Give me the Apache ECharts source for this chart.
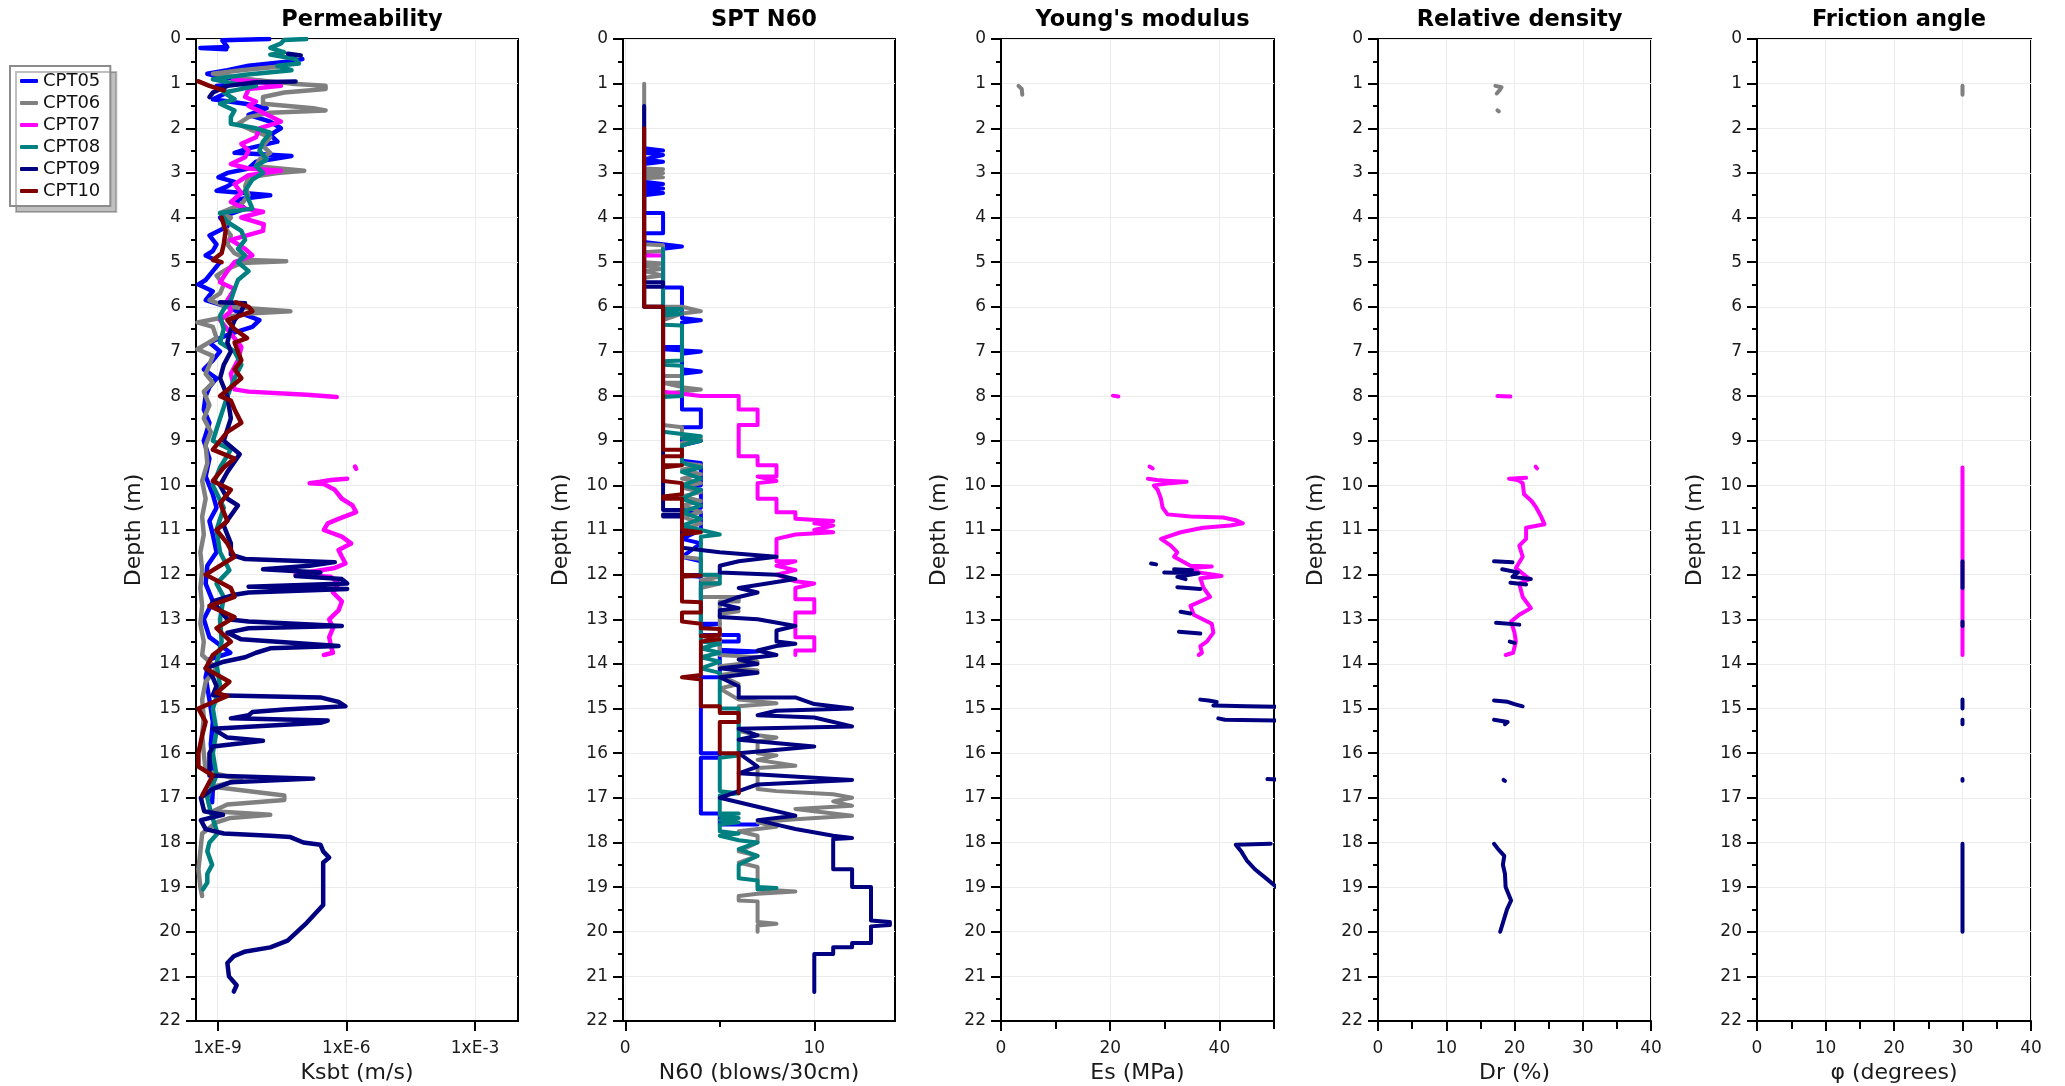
<!DOCTYPE html>
<html>
<head>
<meta charset="utf-8">
<script src="https://cdn.jsdelivr.net/npm/echarts@6/dist/echarts.min.js"></script>
<style>
html,body{margin:0;padding:0;background:#fff;}
#chart{width:2065px;height:1086px;}
</style>
</head>
<body>
<div id="chart"></div>
<script>
// ---------- categories / labels ----------
const cptNames = ['CPT05','CPT06','CPT07','CPT08','CPT09','CPT10'];
const cptColors = ['#0000ff','#808080','#ff00ff','#008080','#000080','#800000'];
const panelTitles = ['Permeability','SPT N60',"Young's modulus",'Relative density','Friction angle'];
const panelXNames = ['Ksbt (m/s)','N60 (blows/30cm)','Es (MPa)','Dr (%)','\u03c6 (degrees)'];
const permTickValues = [1e-9, 1e-6, 1e-3];
const permTickLabels = ['1xE-9','1xE-6','1xE-3'];
const sptTickValues = [0, 10];
const sptMinorTicks = [5];
const esTickValues = [0, 20, 40];
const esMinorTicks = [10, 30, 50];
const pctTickValues = [0, 10, 20, 30, 40];
const pctMinorTicks = [5, 15, 25, 35];

// ---------- data: [depth (m), value] ----------
// Permeability Ksbt (m/s)
const permCPT05 = [[0.00,1.6e-8],[0.03,1.3e-9],[0.18,1.7e-9],[0.20,4e-10],[0.23,1.6e-9],[0.3,null],
 [0.45,9.5e-8],[0.50,5.3e-8],[0.60,5.3e-9],[0.70,1.7e-9],[0.78,5.8e-10],[0.85,1.15e-9],[0.95,1.4e-8],[1.05,9.5e-10],[1.2,1.7e-9],[1.35,7.8e-10],[1.45,4.4e-9],[1.55,1.4e-8],[1.7,5.3e-9],[1.85,1.7e-8],[2.0,3e-8],[2.15,1.7e-8],[2.3,2.5e-8],[2.45,5.3e-9],[2.55,2.5e-9],[2.62,5.3e-8],[2.75,7.9e-9],[2.9,5.3e-9],[3.0,1.7e-9],[3.1,1.05e-9],[3.2,2.5e-9],[3.3,1.7e-9],[3.4,9.5e-10],[3.5,1.7e-8],[3.6,2.5e-9],[3.8,4.4e-9],[4.0,1.15e-9],[4.2,1.7e-9],[4.4,6.5e-10],[4.6,9.5e-10],[4.75,7.8e-10],[4.85,5.3e-10],[5.0,1.15e-9],[5.2,7.8e-10],[5.4,5.3e-10],[5.5,3.6e-10],[5.65,7.8e-10],[5.85,5.3e-10],[6.0,1.7e-9],[6.15,3.6e-9],[6.3,9.5e-9],[6.45,6.5e-9],[6.6,2.05e-9],[6.8,6.5e-10],[7.0,1.15e-9],[7.2,7.8e-10],[7.4,4.8e-10],[7.6,9.5e-10],[7.8,6.5e-10],[8.0,5.3e-10],[8.3,4.8e-10],[8.6,6.5e-10],[9.0,4.8e-10],[9.4,6.5e-10],[9.8,5.3e-10],[10.2,7.8e-10],[10.5,9.5e-10],[10.8,6.5e-10],[11.1,7.8e-10],[11.5,9.5e-10],[11.8,5.8e-10],[12.2,5.3e-10],[12.6,7.8e-10],[13.0,4.8e-10],[13.4,6.5e-10],[13.75,2e-9],[13.9,6.5e-10],[14.3,5.3e-10],[14.8,6.5e-10],[15.3,7.8e-10],[15.8,7e-10],[16.3,7.8e-10],[16.8,7.8e-10],[17.1,7.5e-10]];
const permCPT06 = [[0.62,2.5e-8],[0.7,3.6e-9],[0.78,7.8e-10],[0.9,5.3e-9],[1.0,5.3e-8],[1.05,3.3e-7],[1.12,3.3e-7],[1.2,3.6e-8],[1.3,1.15e-8],[1.45,1.15e-8],[1.55,1.7e-7],[1.6,3.3e-7],[1.65,1.7e-8],[1.75,5.3e-9],[1.9,3e-9],[2.05,6.5e-9],[2.2,1.7e-8],[2.4,1.15e-8],[2.55,1.7e-8],[2.7,9.5e-9],[2.85,7.9e-9],[2.95,1.05e-7],[3.0,2.5e-8],[3.1,5.3e-9],[3.3,4.4e-9],[3.5,5.3e-9],[3.7,3.6e-9],[3.9,1.15e-9],[4.0,2.05e-9],[4.2,1.4e-9],[4.4,2.05e-9],[4.6,1.7e-9],[4.8,2.5e-9],[4.95,5.3e-9],[4.98,4e-8],[5.02,3.6e-9],[5.15,1.7e-9],[5.3,9.5e-10],[5.5,1.4e-9],[5.7,1.15e-9],[5.85,6.5e-10],[6.0,1.7e-9],[6.1,5e-8],[6.15,5.3e-9],[6.25,1.15e-9],[6.35,3.4e-10],[6.45,7.8e-10],[6.7,9.5e-10],[6.95,3.4e-10],[7.1,7.8e-10],[7.3,6.5e-10],[7.5,5.3e-10],[7.7,7.8e-10],[7.9,4.8e-10],[8.2,6.5e-10],[8.5,4.8e-10],[8.8,7e-10],[9.1,5.3e-10],[9.5,5.8e-10],[9.9,4.4e-10],[10.3,5.3e-10],[10.7,4.4e-10],[11.1,4.8e-10],[11.5,4e-10],[11.9,4.4e-10],[12.3,4e-10],[12.7,4.4e-10],[13.1,4e-10],[13.5,4.8e-10],[13.8,4.4e-10],[14.1,9.5e-10],[14.4,5.3e-10],[14.8,4.4e-10],[15.2,4.8e-10],[15.6,4.4e-10],[16.0,4.8e-10],[16.4,5.3e-10],[16.6,3.6e-9],[16.75,7.8e-10],[16.95,3.6e-8],[17.05,3.6e-8],[17.15,1.7e-9],[17.3,7.8e-10],[17.38,1.7e-8],[17.45,2e-9],[17.55,9.5e-10],[17.8,4.4e-10],[18.2,4e-10],[18.6,3.6e-10],[19.0,4e-10],[19.2,4.4e-10]];
const permCPT07 = [[0.92,2.3e-9],[0.95,7.9e-9],[1.05,3e-8],[1.12,5.3e-9],[1.3,4.4e-9],[1.4,7.9e-9],[1.5,5.3e-9],[1.65,1.15e-8],[1.85,3e-8],[2.0,9.5e-9],[2.2,7.9e-9],[2.35,3.6e-9],[2.5,5.3e-9],[2.65,4.4e-9],[2.8,2.05e-9],[2.9,5.3e-9],[2.95,3e-8],[3.05,5.3e-9],[3.25,2.5e-9],[3.45,3.6e-9],[3.65,2.05e-9],[3.8,4.4e-9],[3.87,1.15e-8],[4.0,3.6e-9],[4.15,1.2e-8],[4.3,1.15e-8],[4.5,2.05e-9],[4.7,4.4e-9],[4.85,6.5e-9],[5.0,2.5e-9],[5.2,1.7e-9],[5.45,1.15e-9],[5.6,2.5e-9],[5.85,1.7e-9],[6.1,2.05e-9],[6.3,1.15e-9],[6.6,2.05e-9],[6.9,3.6e-9],[7.2,3e-9],[7.5,2.05e-9],[7.85,2.5e-9],[7.9,5.3e-9],[7.97,1.2e-7],[8.02,6e-7],[8.5,null],
 [9.58,1.6e-6],[9.63,1.7e-6],[9.7,null],
 [9.85,1.05e-6],[9.88,4.4e-7],[9.92,2.5e-7],[9.95,1.4e-7],[9.97,3e-7],[10.1,5.4e-7],[10.3,7.9e-7],[10.45,1.4e-6],[10.6,1.7e-6],[10.75,6.6e-7],[10.85,3.7e-7],[11.0,3e-7],[11.15,7.9e-7],[11.3,1.3e-6],[11.45,6.6e-7],[11.6,7.9e-7],[11.75,9.6e-7],[11.85,5.4e-7],[11.95,1.2e-7],[12.0,6.6e-8],[12.05,4.4e-7],[12.2,6.6e-7],[12.4,4.9e-7],[12.6,7.9e-7],[12.8,6.6e-7],[13.0,4e-7],[13.2,4.9e-7],[13.4,4e-7],[13.6,4.4e-7],[13.75,4.9e-7],[13.8,3e-7]];
const permCPT08 = [[0.0,1.17e-7],[0.02,3.6e-8],[0.1,3e-8],[0.2,1.7e-8],[0.3,3.6e-8],[0.35,1.7e-8],[0.45,6.6e-8],[0.55,7.9e-8],[0.6,2.5e-8],[0.7,5.3e-8],[0.8,4.4e-9],[0.9,7.8e-10],[1.0,2.5e-9],[1.05,7.9e-9],[1.15,2.5e-9],[1.2,1.4e-9],[1.35,2.5e-9],[1.45,1.15e-9],[1.6,2.5e-9],[1.75,2.05e-9],[1.9,2.05e-9],[2.0,7.9e-9],[2.1,1.7e-8],[2.3,1.15e-8],[2.5,9.5e-9],[2.7,1.4e-8],[2.85,7.9e-9],[3.0,1.15e-8],[3.15,6.5e-9],[3.4,4.4e-9],[3.6,5.3e-9],[3.8,6.5e-9],[3.9,1.15e-9],[4.1,1.7e-9],[4.3,3.6e-9],[4.5,4.4e-9],[4.7,3e-9],[4.85,4.4e-9],[5.0,3e-9],[5.2,5.3e-9],[5.4,3e-9],[5.6,2.5e-9],[5.85,2.05e-9],[6.05,1.4e-9],[6.2,1.15e-9],[6.5,1.4e-9],[6.8,1.15e-9],[7.0,2.5e-9],[7.3,3.6e-9],[7.6,2.5e-9],[8.0,1.7e-9],[8.5,1.15e-9],[9.0,7.8e-10],[9.2,2.05e-9],[9.6,1.15e-9],[10.0,7.8e-10],[10.5,1.4e-9],[11.0,9.5e-10],[11.5,1.15e-9],[11.9,1.9e-9],[12.2,9.5e-10],[12.5,1.4e-9],[13.0,1.15e-9],[13.5,1.25e-9],[14.0,9.5e-10],[14.5,1.15e-9],[15.0,7.8e-10],[15.5,9.5e-10],[16.0,7.8e-10],[16.5,9.5e-10],[17.0,5.8e-10],[17.3,6.9e-10],[17.8,1e-9],[18.0,6.5e-10],[18.2,5.8e-10],[18.5,7.5e-10],[18.7,5.8e-10],[18.9,5.8e-10],[19.05,4.6e-10]];
const permCPT09 = [[0.33,4.4e-8],[0.37,8.7e-8],[0.5,null],
 [0.95,6.6e-8],[0.97,7.9e-9],[1.05,1.7e-9],[1.2,7.8e-10],[1.3,6.5e-10],[2.0,null],
 [5.9,1.15e-9],[5.92,4.4e-9],[6.1,3.6e-9],[6.3,2.5e-9],[6.5,2.05e-9],[6.8,1.7e-9],[7.0,2.05e-9],[7.3,1.4e-9],[7.6,1.15e-9],[8.0,1.7e-9],[8.5,2.05e-9],[9.0,1.4e-9],[9.3,3.3e-9],[9.7,1.7e-9],[10.0,1.15e-9],[10.3,1.7e-9],[10.45,3e-9],[10.9,1.4e-9],[11.3,2.05e-9],[11.55,2.05e-9],[11.65,4.4e-9],[11.72,5.4e-7],[11.8,1.4e-7],[11.88,1.15e-8],[11.95,2.5e-7],[12.03,6.6e-8],[12.1,7.9e-7],[12.2,1.05e-6],[12.27,5.3e-9],[12.32,1.05e-6],[12.4,5.3e-9],[12.45,2.5e-9],[12.6,7.8e-10],[12.8,1.15e-9],[13.0,1.7e-9],[13.05,5.3e-9],[13.15,7.9e-7],[13.2,5.3e-9],[13.3,1.7e-9],[13.45,3.6e-9],[13.6,6.6e-7],[13.65,1.7e-8],[13.75,7.9e-9],[13.85,4.4e-9],[13.95,1.4e-9],[14.1,5.3e-10],[14.3,7.8e-10],[14.5,9.5e-10],[14.7,7.8e-10],[14.75,2.5e-7],[14.85,6.6e-7],[14.95,9.6e-7],[15.02,3.6e-8],[15.08,6.5e-9],[15.15,5.3e-9],[15.22,2.05e-9],[15.27,3.7e-7],[15.32,2.5e-7],[15.45,7.8e-10],[15.65,1.7e-9],[15.72,1.15e-8],[15.85,7.8e-10],[16.0,6.5e-10],[16.5,6.5e-10],[16.57,1.7e-7],[16.65,2.05e-9],[16.8,7.8e-10],[17.0,4.1e-10],[17.3,4.9e-10],[17.38,1.35e-9],[17.5,4.1e-10],[17.7,5.3e-10],[17.8,1.4e-9],[17.85,1.7e-8],[17.88,5e-8],[18.0,1e-7],[18.05,2.5e-7],[18.2,2.9e-7],[18.34,4e-7],[18.45,2.9e-7],[19.0,2.9e-7],[19.4,2.9e-7],[19.8,1.2e-7],[20.2,4.3e-8],[20.35,1.7e-8],[20.45,4.2e-9],[20.55,2.4e-9],[20.7,1.7e-9],[21.0,1.85e-9],[21.2,2.8e-9],[21.34,2.4e-9]];
const permCPT10 = [[0.95,3.6e-10],[1.05,6.5e-10],[1.15,1.4e-9],[2.0,null],
 [4.0,1.25e-9],[4.3,1.55e-9],[4.6,1.4e-9],[4.8,1.25e-9],[4.95,7.8e-10],[5.0,1.25e-9],[5.5,null],
 [5.9,2.7e-9],[6.0,5.3e-9],[6.1,6.5e-9],[6.3,1.7e-9],[6.5,2.5e-9],[6.7,4.9e-9],[6.8,2.5e-9],[7.0,3e-9],[7.2,3.6e-9],[7.4,2.5e-9],[7.6,3.6e-9],[7.8,2.05e-9],[8.0,1.15e-9],[8.1,2.05e-9],[8.3,2.5e-9],[8.6,3.6e-9],[8.8,1.7e-9],[9.2,7.8e-10],[9.4,2.5e-9],[9.6,1.4e-9],[9.9,7.8e-10],[10.1,2.05e-9],[10.4,1.15e-9],[10.8,1.7e-9],[11.0,9.5e-10],[11.3,1.7e-9],[11.6,2.5e-9],[12.0,5.3e-10],[12.3,2.05e-9],[12.5,2.5e-9],[12.7,6.5e-10],[12.95,2.5e-9],[13.2,9.5e-10],[13.5,2.05e-9],[13.8,7.8e-10],[14.1,5.3e-10],[14.4,1.9e-9],[14.65,9.5e-10],[14.72,1.7e-9],[15.0,3.6e-10],[15.3,5.3e-10],[15.6,4.4e-10],[16.0,3.6e-10],[16.3,3.6e-10],[16.5,7.8e-10],[16.95,4.4e-10]];

// SPT N60 (blows/30cm)
const sptCPT05 = [[2.45,1],[2.5,2],[2.55,1],[2.6,2],[2.7,1],[2.75,2],[2.8,1],[3.2,1],[3.25,2],[3.3,1],[3.35,2],[3.4,1],[3.45,2],[3.5,1],[3.9,1],[3.9,2],[4.35,2],[4.35,1],[4.55,1],[4.6,2],[4.65,3],[4.7,2],[5.57,2],[5.57,3],[6.25,3],[6.3,4],[6.35,3],[6.9,3],[6.9,2],[6.95,2],[7.0,4],[7.05,3],[7.4,3],[7.45,4],[7.5,3],[8.3,3],[8.3,4],[8.7,4],[8.7,3],[9.0,3],[9.0,4],[9.1,3],[9.45,3],[9.5,4],[10.0,4],[10.05,3],[10.1,4],[10.5,4],[10.55,3],[10.6,4],[11.0,4],[11.2,3],[11.3,4],[11.6,3],[11.7,4],[12.0,4],[12.02,3],[12.05,4],[13.1,4],[13.1,5],[13.15,4],[13.35,4],[13.35,6],[13.5,6],[13.5,5],[13.68,5],[13.72,7],[13.76,5],[14.3,5],[14.3,4],[16.0,4],[16.0,5],[16.1,5],[16.1,4],[17.35,4],[17.35,5],[17.6,5],[17.6,7]];
const sptCPT06 = [[1.0,1],[2.9,1],[2.92,2],[2.95,1],[3.0,2],[3.05,1],[3.1,2],[3.12,1],[4.6,1],[4.62,2],[4.75,2],[4.78,1],[5.0,1],[5.03,2],[5.08,1],[5.15,2],[5.2,1],[5.3,2],[5.35,1],[6.0,1],[6.0,3],[6.1,4],[6.15,3],[6.3,2],[7.55,2],[7.55,3],[7.7,3],[7.7,2],[7.8,3],[7.85,4],[7.9,3],[7.95,2],[8.65,2],[8.7,3],[8.9,3],[8.95,4],[9.05,3],[9.5,3],[9.55,4],[9.65,3],[9.75,4],[9.85,3],[9.95,4],[10.05,3],[10.15,4],[10.25,3],[10.35,4],[10.45,3],[10.6,4],[10.7,3],[10.85,4],[11.0,3],[11.6,3],[11.65,4],[12.0,4],[12.05,5],[12.12,4],[12.2,5],[12.3,4],[12.5,4],[12.5,6],[12.6,6],[12.6,5],[12.8,5],[12.82,6],[12.88,5],[13.8,5],[13.85,7],[13.9,6],[13.95,7],[14.05,5],[14.15,7],[14.25,5],[14.45,6],[14.55,5],[14.8,6],[14.88,8],[14.95,6],[15.5,6],[15.6,7],[15.65,8],[15.75,7],[16.0,7],[16.05,8],[16.15,7],[16.28,9],[16.33,7],[16.8,7],[16.85,8],[16.92,11],[17.0,12],[17.08,11],[17.18,12],[17.25,9],[17.4,12],[17.48,9],[17.55,7],[17.65,8],[17.75,6],[17.85,7],[18.0,7],[18.2,6],[18.3,7],[18.45,6],[18.55,7],[19.05,7],[19.1,9],[19.15,7],[19.2,6],[19.3,6],[19.32,7],[19.78,7],[19.82,8],[19.86,7],[20.0,7]];
const sptCPT07 = [[4.85,1],[4.85,2],[7.9,2],[7.95,3],[8.0,4],[8.0,6],[8.3,6],[8.3,7],[8.65,7],[8.65,6],[9.35,6],[9.35,7],[9.55,7],[9.55,8],[9.8,8],[9.8,7],[9.9,8],[9.95,7],[10.3,7],[10.3,8],[10.6,8],[10.6,9],[10.75,9],[10.8,11],[10.85,10],[10.9,11],[11.0,10],[11.05,11],[11.1,9],[11.2,8],[11.7,8],[11.7,9],[11.8,8],[11.9,9],[12.0,8],[12.15,9],[12.2,10],[12.3,9],[12.55,9],[12.55,10],[12.85,10],[12.85,9],[13.4,9],[13.4,10],[13.7,10],[13.7,9],[13.8,9]];
const sptCPT08 = [[4.7,2],[6.05,2],[6.05,3],[6.1,2],[6.15,3],[6.2,2],[6.4,2],[6.42,3],[7.2,3],[7.22,2],[7.3,2],[7.32,3],[8.0,3],[8.02,2],[8.8,2],[8.85,3],[8.9,4],[8.95,3],[9.0,4],[9.1,3],[9.5,3],[9.6,4],[9.7,3],[9.85,4],[10.0,3],[10.1,4],[10.3,3],[10.45,4],[10.6,3],[10.75,4],[10.9,3],[11.0,4],[11.1,5],[11.15,4],[12.0,4],[12.0,5],[12.2,5],[12.2,4],[13.5,4],[13.55,5],[13.65,4],[13.75,5],[13.85,4],[13.95,5],[14.1,4],[14.2,5],[15.0,5],[15.0,6],[16.05,6],[16.1,5],[16.85,5],[16.9,6],[16.95,5],[17.35,5],[17.35,6],[17.4,5],[17.45,6],[17.5,5],[17.55,6],[17.6,5],[17.75,5],[17.8,6],[17.85,5],[17.95,6],[18.0,7],[18.15,6],[18.3,7],[18.5,6],[18.8,6],[18.85,7],[19.0,7],[19.02,8],[19.05,7]];
const sptCPT09 = [[1.5,1],[5.45,1],[5.45,2],[5.55,2],[5.55,1],[6.0,1],[6.0,2],[10.55,2],[10.55,3],[10.65,3],[10.65,2],[10.7,2],[10.7,3],[11.4,3],[11.45,4],[11.5,5],[11.6,8],[11.7,6],[11.8,5],[11.95,5],[12.0,8],[12.1,9],[12.3,6],[12.4,7],[12.5,6],[12.65,5],[12.75,6],[12.8,5],[12.95,5],[13.0,7],[13.15,9],[13.25,8],[13.5,8],[13.55,9],[13.6,8],[13.7,7],[13.8,8],[13.9,6],[14.0,7],[14.1,5],[14.2,7],[14.3,5],[14.5,6],[14.75,6],[14.75,9],[14.9,10],[15.0,12],[15.05,8],[15.15,7],[15.2,10],[15.4,12],[15.45,6],[15.6,7],[15.7,6],[15.85,10],[16.0,6],[16.3,7],[16.45,6],[16.6,12],[16.7,7],[16.85,6],[17.0,5],[17.1,6],[17.2,7],[17.4,9],[17.5,7],[17.6,8],[17.7,9],[17.85,11],[17.9,12],[17.92,11],[18.6,11],[18.6,12],[19.0,12],[19.0,13],[19.75,13],[19.78,14],[19.85,14],[19.88,13],[20.25,13],[20.25,12],[20.35,12],[20.35,11],[20.5,11],[20.5,10],[21.35,10]];
const sptCPT10 = [[2.0,1],[6.0,1],[6.0,2],[9.2,2],[9.2,3],[9.35,3],[9.35,2],[9.55,2],[9.55,3],[9.6,2],[9.9,2],[9.95,3],[10.2,3],[10.25,2],[10.3,2],[10.3,3],[11.0,3],[11.05,4],[11.1,3],[12.0,3],[12.02,4],[12.05,3],[12.6,3],[12.62,4],[12.85,4],[12.85,3],[13.05,3],[13.1,4],[13.2,4],[13.22,5],[13.35,5],[13.37,4],[13.45,5],[13.5,4],[14.25,4],[14.3,3],[14.35,4],[14.95,4],[14.95,5],[15.1,5],[15.1,6],[15.3,6],[15.3,5],[16.0,5],[16.0,6],[16.9,6]];

// Young's modulus Es (MPa)
const esCPT06 = [[1.05,3.2],[1.12,3.8],[1.25,3.9]];
const esCPT07 = [[7.99,20.5],[8.01,21.5],[8.5,null],[9.58,27.2],[9.62,27.8],[9.7,null],
 [9.85,26.9],[9.88,28.5],[9.9,31],[9.92,34],[9.95,31],[10.0,28],[10.1,28.7],[10.3,29.3],[10.5,29.6],[10.65,30.5],[10.7,34.7],[10.72,40.7],[10.78,43],[10.85,44.3],[10.9,42],[10.95,37],[11.05,32.9],[11.2,29.3],[11.35,31.1],[11.5,32.3],[11.6,31.7],[11.8,34.7],[11.82,38.6],[11.85,35],[11.95,36.2],[12.0,39],[12.03,40.4],[12.08,36.5],[12.3,37.1],[12.5,38.3],[12.7,34.7],[12.9,35.3],[13.1,38.6],[13.3,38.9],[13.5,37.7],[13.6,36.5],[13.75,36.8],[13.8,36.2]];
const esCPT09 = [[11.75,27.5],[11.77,28.4],[11.8,null],[11.88,31.7],[11.9,35],[11.92,null],[11.95,29.9],[11.97,36.2],[12.05,32.3],[12.1,33.8],[12.2,null],[12.28,32.3],[12.32,36.5],[12.5,null],[12.83,32.9],[12.87,34.7],[13.0,null],[13.28,32.6],[13.32,36.5],[13.5,null],
 [14.8,36.5],[14.82,38],[14.85,39.5],[14.9,null],[14.93,38.9],[14.95,45],[14.97,55],[15.1,null],[15.22,39.8],[15.25,41],[15.28,55],[15.5,null],[16.58,48.8],[16.62,55],[17.0,null],
 [18.03,49.4],[18.05,43],[18.2,44],[18.4,45],[18.6,46.5],[18.8,48.5],[19.0,50.5]];

// Relative density Dr (%)
const drCPT06 = [[1.05,17.2],[1.08,18.1],[1.15,17.8],[1.22,17.4],[1.4,null],[1.6,17.5],[1.62,17.7]];
const drCPT07 = [[8.0,17.5],[8.01,19.4],[8.5,null],[9.58,23.1],[9.62,23.3],[9.7,null],
 [9.83,21.7],[9.85,19.2],[9.88,20.5],[9.95,21.2],[10.2,21.4],[10.35,22.5],[10.5,23.2],[10.7,23.9],[10.87,24.4],[10.95,21.7],[11.2,21.7],[11.35,20.7],[11.6,21.2],[11.85,20.2],[12.1,22.2],[12.2,20.7],[12.5,21.2],[12.75,22.4],[12.9,20.7],[13.05,19.5],[13.3,20],[13.5,20.2],[13.75,19.8],[13.8,18.7]];
const drCPT09 = [[11.7,17],[11.72,19.7],[11.8,null],[11.88,18.2],[11.95,20.5],[12.05,19.7],[12.1,22.4],[12.15,null],[12.18,19.4],[12.22,21.7],[12.5,null],[13.08,17.3],[13.12,20.7],[13.3,null],[13.5,19.3],[13.53,20],[14.0,null],
 [14.82,17],[14.85,19],[14.9,20],[14.95,21.2],[15.1,null],[15.25,17],[15.3,19],[15.35,18.6],[15.5,null],[16.6,18.4],[16.62,18.6],[17.0,null],
 [18.03,17],[18.15,17.6],[18.3,18.5],[18.5,18.3],[18.7,18.6],[19.0,18.7],[19.3,19.5],[19.5,18.9],[19.8,18.3],[20.0,17.9]];

// Friction angle phi (degrees)
const phiCPT06 = [[1.05,30],[1.25,30]];
const phiCPT07 = [[9.6,30],[13.8,30]];
const phiCPT09 = [[11.7,30],[12.3,30],[12.5,null],[13.05,30],[13.15,30],[13.5,null],[14.8,30],[15.0,30],[15.1,null],[15.25,30],[15.35,30],[15.5,null],[16.58,30],[16.62,30],[17.0,null],[18.03,30],[20.0,30]];

const panelSeries = [
  {CPT05: permCPT05, CPT06: permCPT06, CPT07: permCPT07, CPT08: permCPT08, CPT09: permCPT09, CPT10: permCPT10},
  {CPT05: sptCPT05, CPT06: sptCPT06, CPT07: sptCPT07, CPT08: sptCPT08, CPT09: sptCPT09, CPT10: sptCPT10},
  {CPT06: esCPT06, CPT07: esCPT07, CPT09: esCPT09},
  {CPT06: drCPT06, CPT07: drCPT07, CPT09: drCPT09},
  {CPT06: phiCPT06, CPT07: phiCPT07, CPT09: phiCPT09}
];

// ---------- layout ----------
const FONT = 'DejaVu Sans';
const gridTop = 39, gridHeight = 982;
const grids = [
  {left: 196, width: 322},
  {left: 623, width: 272},
  {left: 1001, width: 273},
  {left: 1378, width: 273},
  {left: 1757, width: 274}
];
const lineWidths = [4.5, 4, 4, 4, 4];

const chart = echarts.init(document.getElementById('chart'), null, {renderer: 'canvas'});

const axisLineStyle = {color: '#000', width: 2};
const labelStyle = {fontFamily: FONT, fontSize: 17, color: '#1a1a1a'};
const nameStyle = {fontFamily: FONT, fontSize: 22, color: '#1a1a1a'};
const splitLineStyle = {show: true, lineStyle: {color: '#ececec', width: 1}};

const xMain = [
  {type: 'log', logBase: 10, min: 3.162e-10, max: 1e-2,
   tickValues: permTickValues,
   formatter: v => { const i = permTickValues.findIndex(t => Math.abs(Math.log10(t) - Math.log10(v)) < 0.01); return i >= 0 ? permTickLabels[i] : ''; }},
  {type: 'value', min: -0.12, max: 14.27, tickValues: sptTickValues, formatter: v => String(Math.round(v))},
  {type: 'value', min: 0, max: 50, interval: 20, tickValues: esTickValues, formatter: v => String(Math.round(v))},
  {type: 'value', min: 0, max: 40, interval: 10, tickValues: pctTickValues, formatter: v => String(Math.round(v))},
  {type: 'value', min: 0, max: 40, interval: 10, tickValues: pctTickValues, formatter: v => String(Math.round(v))}
];
const xMinor = [null, sptMinorTicks, esMinorTicks, pctMinorTicks, pctMinorTicks];

const xAxes = [];
xMain.forEach((a, i) => {
  const ax = {
    type: a.type, gridIndex: i, min: a.min, max: a.max, position: 'bottom',
    name: panelXNames[i], nameLocation: 'middle', nameGap: 40, nameTextStyle: nameStyle,
    axisLine: {show: true, onZero: false, lineStyle: axisLineStyle},
    axisTick: {show: true, length: 10, lineStyle: {color: '#000', width: 2}, customValues: a.tickValues},
    axisLabel: {show: true, margin: 19, ...labelStyle, customValues: a.tickValues, formatter: a.formatter},
    splitLine: splitLineStyle,
    minorTick: {show: false}
  };
  if (a.type === 'log') ax.logBase = a.logBase;
  if (a.interval != null) ax.interval = a.interval;
  xAxes.push(ax);
});
xMinor.forEach((vals, i) => {
  if (!vals) return;
  const m = xMain[i];
  xAxes.push({
    type: 'value', gridIndex: i, min: m.min, max: m.max, position: 'bottom',
    axisLine: {show: false, onZero: false},
    axisTick: {show: true, length: i === 1 ? 6 : 8, lineStyle: {color: '#000', width: 2}, customValues: vals},
    axisLabel: {show: false},
    splitLine: {show: false}
  });
});

const yAxes = grids.map((g, i) => ({
  type: 'value', gridIndex: i, min: 0, max: 22, interval: 1, inverse: true, position: 'left',
  name: 'Depth (m)', nameLocation: 'middle', nameGap: 51, nameRotate: 90, nameTextStyle: nameStyle,
  axisLine: {show: true, onZero: false, lineStyle: axisLineStyle},
  axisTick: {show: true, length: 10, lineStyle: {color: '#000', width: 2}},
  minorTick: {show: true, splitNumber: 2, length: 5, lineStyle: {color: '#000', width: 2}},
  axisLabel: {show: true, margin: 15, ...labelStyle},
  splitLine: splitLineStyle
}));

const series = [];
panelSeries.forEach((ps, p) => {
  cptNames.forEach((name, c) => {
    const rows = ps[name];
    if (!rows) return;
    series.push({
      name: name, type: 'line', xAxisIndex: p, yAxisIndex: p,
      data: rows.map(r => [r[1], r[0]]),
      showSymbol: false, symbol: 'none', connectNulls: false, clip: true,
      color: cptColors[c],
      lineStyle: {color: cptColors[c], width: lineWidths[p], cap: 'round', join: 'round'},
      emphasis: {disabled: true},
      z: 2 + c
    });
  });
});

const option = {
  animation: false,
  backgroundColor: '#ffffff',
  textStyle: {fontFamily: FONT},
  title: grids.map((g, i) => ({
    text: panelTitles[i], left: g.left + g.width / 2, top: 4, textAlign: 'center',
    textStyle: {fontFamily: FONT, fontSize: 22.5, fontWeight: 'bold', color: '#000'}
  })),
  legend: {
    show: true, orient: 'vertical', left: 10, top: 66,
    data: cptNames,
    icon: 'roundRect', itemWidth: 18, itemHeight: 4, itemGap: 4,
    padding: [6, 10, 6, 10],
    backgroundColor: '#ffffff', borderColor: '#8c8c8c', borderWidth: 2, borderRadius: 0,
    shadowColor: 'rgba(0,0,0,0.25)', shadowBlur: 0, shadowOffsetX: 6, shadowOffsetY: 6,
    textStyle: {fontFamily: FONT, fontSize: 18, color: '#111'},
    selectedMode: false
  },
  grid: grids.map(g => ({
    left: g.left, top: gridTop, width: g.width, height: gridHeight,
    show: true, borderColor: '#000', borderWidth: 2, backgroundColor: 'transparent',
    containLabel: false, outerBoundsMode: 'none'
  })),
  xAxis: xAxes,
  yAxis: yAxes,
  series: series
};

chart.setOption(option);
</script>
</body>
</html>
